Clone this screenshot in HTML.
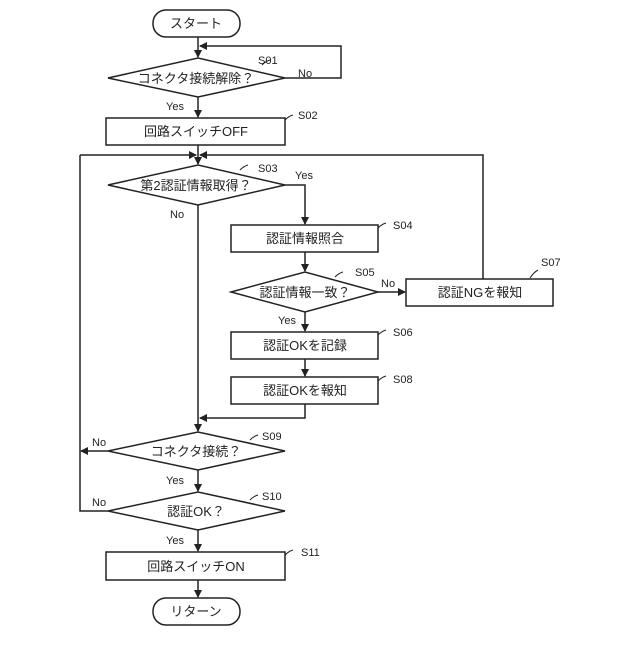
<!DOCTYPE html>
<html><head><meta charset="utf-8"><style>
body{margin:0;background:#fff}
svg text{font-family:"Liberation Sans","Noto Sans CJK JP",sans-serif;fill:#222}
</style></head><body>
<svg width="640" height="640" viewBox="0 0 640 640" xmlns="http://www.w3.org/2000/svg">
<defs><marker id="a" markerWidth="8" markerHeight="8" refX="7" refY="4" orient="auto" markerUnits="userSpaceOnUse"><path d="M0,0 L8,4 L0,8 z" fill="#222"/></marker></defs>
<g stroke="#222" stroke-width="1.5" fill="none">
<rect x="153" y="10" width="87" height="27" rx="13"/>
<line x1="198" y1="37" x2="198" y2="57" marker-end="url(#a)"/>
<polygon points="108,78 198,58 285,78 198,97" fill="#fff"/>
<polyline points="285,78 341,78 341,46 200,46" marker-end="url(#a)"/>
<line x1="198" y1="97" x2="198" y2="117" marker-end="url(#a)"/>
<rect x="106" y="118" width="179" height="27"/>
<line x1="198" y1="145" x2="198" y2="164" marker-end="url(#a)"/>
<polyline points="80,155 196,155" marker-end="url(#a)"/>
<polyline points="483,279 483,155 200,155" marker-end="url(#a)"/>
<polygon points="108,185 198,165 285,185 198,205" fill="#fff"/>
<polyline points="285,185 305,185 305,224" marker-end="url(#a)"/>
<rect x="231" y="225" width="147" height="27"/>
<line x1="305" y1="252" x2="305" y2="271" marker-end="url(#a)"/>
<polygon points="231,292 305,272 378,292 305,312" fill="#fff"/>
<line x1="378" y1="292" x2="405" y2="292" marker-end="url(#a)"/>
<rect x="406" y="279" width="147" height="27"/>
<line x1="305" y1="312" x2="305" y2="331" marker-end="url(#a)"/>
<rect x="231" y="332" width="147" height="27"/>
<line x1="305" y1="359" x2="305" y2="376" marker-end="url(#a)"/>
<rect x="231" y="377" width="147" height="27"/>
<polyline points="305,404 305,418 200,418" marker-end="url(#a)"/>
<line x1="198" y1="205" x2="198" y2="431" marker-end="url(#a)"/>
<polygon points="108,451 198,432 285,451 198,470" fill="#fff"/>
<line x1="108" y1="451" x2="81" y2="451" marker-end="url(#a)"/>
<polyline points="108,511 80,511 80,155"/>
<line x1="198" y1="470" x2="198" y2="491" marker-end="url(#a)"/>
<polygon points="108,511 198,492 285,511 198,530" fill="#fff"/>
<line x1="198" y1="530" x2="198" y2="551" marker-end="url(#a)"/>
<rect x="106" y="552" width="179" height="28"/>
<line x1="198" y1="580" x2="198" y2="597" marker-end="url(#a)"/>
<rect x="153" y="598" width="87" height="27" rx="13"/>
<path d="M262,65 q4,-4 8,-5 M285,120 q4,-4 8,-5 M240,170 q4,-4 8,-5 M378,228 q4,-4 8,-5 M335,277 q4,-4 8,-5 M530,278 q4,-6 8,-8 M378,335 q4,-4 8,-5 M378,381 q4,-4 8,-5 M250,440 q4,-4 8,-5 M250,500 q4,-4 8,-5 M285,555 q4,-4 8,-5" stroke-width="1"/>
</g>
<g font-size="13" text-anchor="middle">
<text x="196" y="28">スタート</text>
<text x="196" y="83">コネクタ接続解除？</text>
<text x="196" y="136">回路スイッチOFF</text>
<text x="196" y="190">第2認証情報取得？</text>
<text x="305" y="243">認証情報照合</text>
<text x="305" y="297">認証情報一致？</text>
<text x="480" y="297">認証NGを報知</text>
<text x="305" y="350">認証OKを記録</text>
<text x="305" y="395">認証OKを報知</text>
<text x="196" y="456">コネクタ接続？</text>
<text x="196" y="516">認証OK？</text>
<text x="196" y="571">回路スイッチON</text>
<text x="196" y="616">リターン</text>
</g>
<g font-size="11">
<text x="258" y="64">S01</text><text x="298" y="77">No</text><text x="166" y="110">Yes</text>
<text x="298" y="119">S02</text>
<text x="258" y="172">S03</text><text x="295" y="179">Yes</text><text x="170" y="218">No</text>
<text x="393" y="229">S04</text>
<text x="355" y="276">S05</text><text x="381" y="287">No</text><text x="278" y="324">Yes</text>
<text x="541" y="266">S07</text>
<text x="393" y="336">S06</text>
<text x="393" y="383">S08</text>
<text x="262" y="440">S09</text><text x="92" y="446">No</text><text x="166" y="484">Yes</text>
<text x="262" y="500">S10</text><text x="92" y="506">No</text><text x="166" y="544">Yes</text>
<text x="301" y="556">S11</text>
</g>
</svg>
</body></html>
